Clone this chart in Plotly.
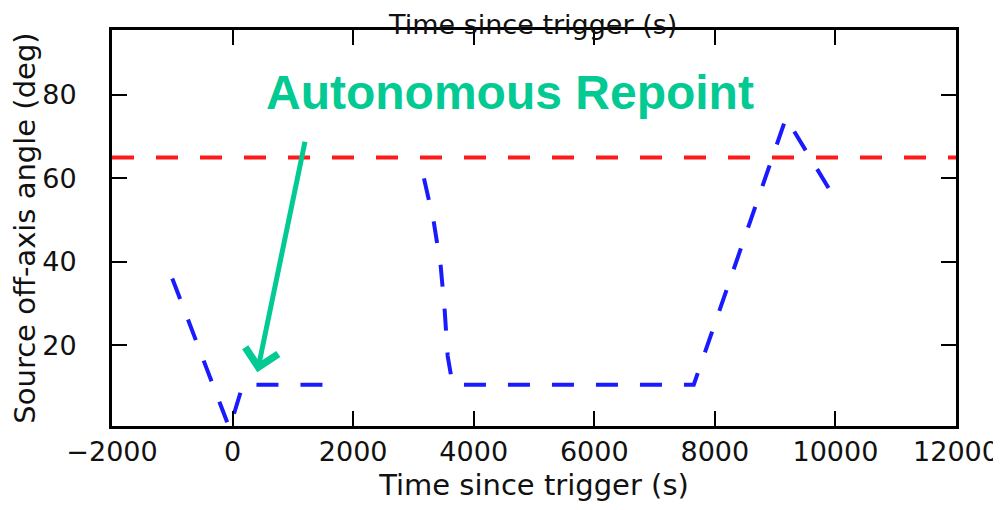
import plotly.graph_objects as go

# ---- data ----
# first visible pass of the source angle (before/after the repoint)
t_pass1 = [-1000, -50, 170, 1500]
angle_pass1 = [36, 0, 10.5, 10.5]
# second visible pass
t_pass2 = [3175, 3336, 3452, 3519, 3568, 3618, 3650, 7650, 9180, 10000]
angle_pass2 = [60, 49.7, 39, 28.2, 17.4, 12.3, 10.5, 10.5, 74.5, 55]
# constraint threshold (deg)
threshold = 65
x_range = [-2000, 12000]
y_range = [0.6, 95.6]
x_ticks = [-2000, 0, 2000, 4000, 6000, 8000, 10000, 12000]
x_ticktext = ["\u22122000", "0", "2000", "4000", "6000", "8000", "10000", "12000"]
y_ticks = [20, 40, 60, 80]
annot_text = "Autonomous Repoint"
arrow_tip = (410, 13.5)

GREEN = "#03C993"
FONT = "DejaVu Sans"

fig = go.Figure()
fig.add_trace(go.Scatter(
    x=x_range, y=[threshold, threshold], mode="lines",
    line=dict(color="#FF1A1A", width=4, dash="22px,22px"),
    hoverinfo="skip", showlegend=False))
fig.add_trace(go.Scatter(
    x=t_pass1, y=angle_pass1, mode="lines",
    line=dict(color="#1A1AFF", width=4, dash="22px,22px"),
    showlegend=False))
fig.add_trace(go.Scatter(
    x=t_pass2, y=angle_pass2, mode="lines",
    line=dict(color="#1A1AFF", width=4, dash="22px,22px"),
    showlegend=False))

axis_common = dict(
    showline=True, linecolor="black", linewidth=3, mirror="ticks",
    ticks="inside", ticklen=15, tickwidth=1.5, tickcolor="black",
    showgrid=False, zeroline=False,
    tickfont=dict(family=FONT, size=27, color="#111"),
)
fig.update_xaxes(range=x_range, tickvals=x_ticks, ticktext=x_ticktext,
                 **axis_common,
                 title=dict(text="Time since trigger (s)",
                            font=dict(family=FONT, size=29, color="#111"),
                            standoff=9))
fig.update_yaxes(range=y_range, tickvals=y_ticks, **axis_common,
                 ticklabelstandoff=27,
                 title=dict(text="Source off-axis angle (deg)",
                            font=dict(family=FONT, size=29, color="#111"),
                            standoff=6))

fig.add_annotation(
    text=annot_text, xref="paper", yref="paper", x=0.4716, y=0.8434,
    xanchor="center", yanchor="middle", showarrow=False,
    font=dict(family="Liberation Sans", size=48, color=GREEN, weight="bold"))
fig.add_annotation(
    text="", x=arrow_tip[0], y=arrow_tip[1], xref="x", yref="y",
    ax=48, ay=-232, axref="pixel", ayref="pixel",
    showarrow=True, arrowhead=4, arrowsize=1.3, arrowwidth=5,
    arrowcolor=GREEN, standoff=0)
# title of the panel above, peeking over the top frame
fig.add_annotation(
    text="Time since trigger (s)", xref="paper", yref="paper",
    x=0.4988, y=1.0556, xanchor="center", yanchor="top", showarrow=False,
    borderpad=0,
    font=dict(family=FONT, size=27, color="#111"))

# the page body adds an 8px margin on every side; size the figure so that the
# page does not overflow the window and the plot box lands where the
# reference has it
fig.update_layout(
    width=993, height=494,
    margin=dict(l=104, r=45, t=22, b=76, autoexpand=False),
    plot_bgcolor="white", paper_bgcolor="white",
    showlegend=False,
)
fig.write_html("out.html")
